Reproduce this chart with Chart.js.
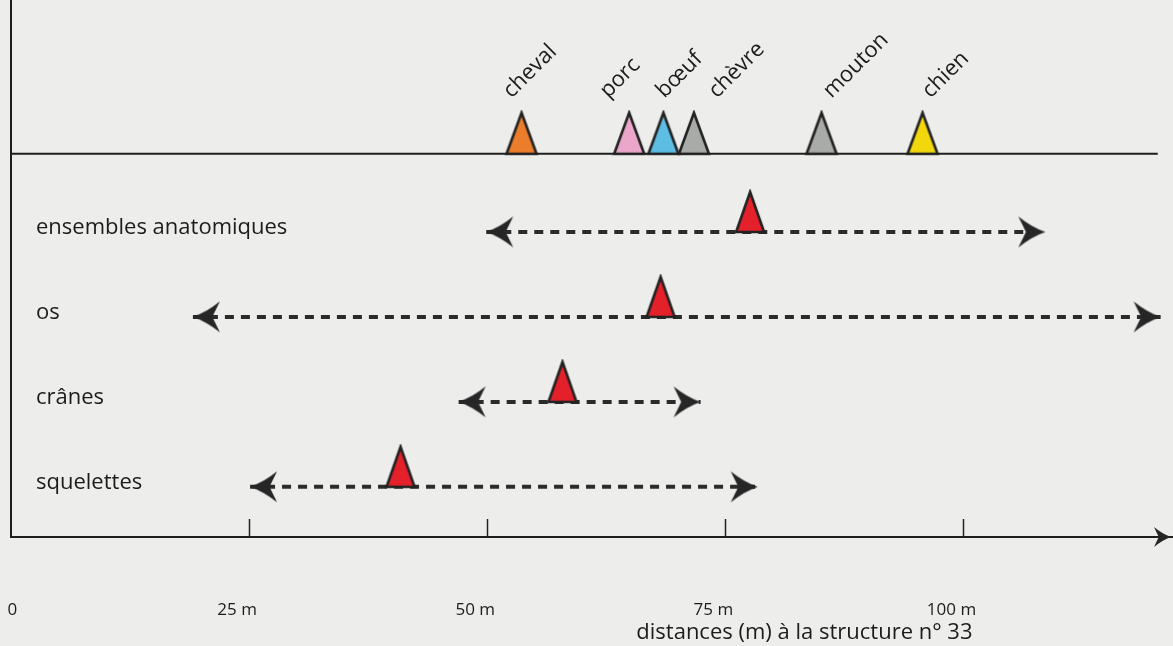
<!DOCTYPE html>
<html lang="fr">
<head>
<meta charset="utf-8">
<title>Distances à la structure n° 33</title>
<script src="https://cdn.jsdelivr.net/npm/chart.js@4.4.1/dist/chart.umd.min.js"></script>
<style>
  html, body { margin: 0; padding: 0; background: #ededec; }
  #cadre { width: 1173px; height: 646px; }
</style>
</head>
<body>
<div id="cadre"><canvas id="graphique"></canvas></div>
<script>
// distance moyenne de chaque espèce (m)
var especes = ['cheval', 'porc', 'bœuf', 'chèvre', 'mouton', 'chien'];
var especesDist = [53.6, 64.9, 68.5, 71.7, 85.1, 95.7];
var especesCouleurs = ['#ec7d2c', '#eaa7ca', '#5dbde3', '#a8aba7', '#a8aba7', '#f2d70c'];

// catégories de restes : moyenne et étendue (m)
var categories = ['ensembles anatomiques', 'os', 'crânes', 'squelettes'];
var moyennes = [77.6, 68.2, 57.9, 40.9];
var minima = [49.9, 19.1, 47.0, 25.1];
var maxima = [108.6, 120.7, 72.4, 78.4];

// axe des distances
var graduations = [0, 25, 50, 75, 100];
var etiquettes = ['      0', '25 m', '50 m', '75 m', '100 m'];

var LIGNE = 4.92;       // niveau de la ligne des espèces
var FIN_LIGNE = 120.4;  // la ligne des espèces s'arrête avant la flèche
var decalage = [-10, -21, 1, 23, 10, 8]; // petits décalages des noms d'espèces (px)
var police = '"Open Sans", "Noto Sans", sans-serif';

function rang(i) { return 4 - i; } // ensembles en haut, squelettes en bas

// triangle dont la base est au centre du canvas
function triangle(w, h, fond) {
  var c = document.createElement('canvas');
  c.width = w + 6; c.height = 2 * h + 6;
  var g = c.getContext('2d');
  var cx = c.width / 2, base = c.height / 2;
  g.beginPath();
  g.moveTo(cx, base - h);
  g.lineTo(cx + w / 2, base);
  g.lineTo(cx - w / 2, base);
  g.closePath();
  g.fillStyle = fond;
  g.fill();
  g.lineWidth = 2.6;
  g.lineJoin = 'miter';
  g.strokeStyle = '#222';
  g.stroke();
  return c;
}

// pointe de flèche vers la droite, la pointe au centre du canvas
function fleche(L, H) {
  var c = document.createElement('canvas');
  c.width = 2 * L + 2; c.height = H + 2;
  var g = c.getContext('2d');
  var cx = c.width / 2, cy = c.height / 2;
  g.beginPath();
  g.moveTo(cx, cy);
  g.quadraticCurveTo(cx - L * 0.5, cy - H * 0.15, cx - L, cy - H / 2);
  g.lineTo(cx - L * 0.72, cy);
  g.lineTo(cx - L, cy + H / 2);
  g.quadraticCurveTo(cx - L * 0.5, cy + H * 0.15, cx, cy);
  g.closePath();
  g.fillStyle = '#262626';
  g.fill();
  return c;
}

var pointe = fleche(27, 31);
var petitePointe = fleche(17, 20);
var triangleRouge = triangle(28, 40, '#e4202a');

var datasets = [];

datasets.push({
  label: 'espèces',
  data: especesDist.map(function (d) { return { x: d, y: LIGNE }; }),
  pointStyle: especesCouleurs.map(function (c) { return triangle(30, 41, c); }),
  pointRadius: 12,
  order: 0
});

datasets.push({
  label: 'moyennes',
  data: moyennes.map(function (m, i) { return { x: m, y: rang(i) }; }),
  pointStyle: triangleRouge,
  pointRadius: 12,
  order: 0
});

categories.forEach(function (nom, i) {
  datasets.push({
    label: nom,
    data: [{ x: minima[i], y: rang(i) }, { x: maxima[i], y: rang(i) }],
    showLine: true,
    borderColor: '#2b2b2b',
    borderWidth: 4,
    borderDash: [9, 7],
    borderCapStyle: 'butt',
    pointStyle: pointe,
    pointRotation: [180, 0],
    pointRadius: 12,
    order: 1
  });
});

datasets.push({
  label: 'ligne',
  data: [{ x: 0, y: LIGNE }, { x: FIN_LIGNE, y: LIGNE }],
  showLine: true,
  borderColor: '#1e1e1e',
  borderWidth: 2,
  pointRadius: 0,
  order: 2
});

// graduations internes, pointe de l'axe, noms des espèces, titre
var decor = {
  id: 'decor',
  afterDraw: function (chart) {
    var ctx = chart.ctx, xs = chart.scales.x, ys = chart.scales.y, a = chart.chartArea;
    ctx.save();
    ctx.strokeStyle = '#222';
    ctx.lineWidth = 1.5;
    graduations.forEach(function (v) {
      if (v === 0) return;
      var px = Math.round(xs.getPixelForValue(v)) + 0.5;
      ctx.beginPath();
      ctx.moveTo(px, a.bottom);
      ctx.lineTo(px, a.bottom - 18);
      ctx.stroke();
    });
    ctx.drawImage(petitePointe, a.right - 2 - petitePointe.width / 2, a.bottom - petitePointe.height / 2);

    ctx.fillStyle = '#1c1c1c';
    ctx.font = '22px ' + police;
    ctx.textAlign = 'left';
    ctx.textBaseline = 'alphabetic';
    var py = ys.getPixelForValue(LIGNE) - 55;
    especes.forEach(function (nom, i) {
      ctx.save();
      ctx.translate(xs.getPixelForValue(especesDist[i]) + decalage[i], py);
      ctx.rotate(-Math.PI / 4);
      ctx.fillText(nom, 0, 0);
      ctx.restore();
    });

    ctx.font = '22px ' + police;
    ctx.textAlign = 'center';
    ctx.fillText('distances (m) à la structure n° 33', xs.getPixelForValue(83.3), 639);
    ctx.restore();
  }
};

new Chart(document.getElementById('graphique'), {
  type: 'scatter',
  data: { datasets: datasets },
  plugins: [decor],
  options: {
    responsive: true,
    maintainAspectRatio: false,
    animation: false,
    events: [],
    clip: false,
    layout: { padding: 0, autoPadding: false },
    plugins: { legend: { display: false }, tooltip: { enabled: false } },
    scales: {
      x: {
        type: 'linear', min: 0, max: 122,
        border: { display: true, color: '#1e1e1e', width: 2 },
        grid: { display: false, drawTicks: false },
        afterBuildTicks: function (s) { s.ticks = graduations.map(function (v) { return { value: v }; }); },
        afterFit: function (s) { s.height = 109; s.paddingLeft = 0; s.paddingRight = 0; },
        ticks: {
          padding: 63, labelOffset: -12, maxRotation: 0, autoSkip: false,
          color: '#1c1c1c', font: { family: police, size: 17 },
          callback: function (v, i) { return etiquettes[i]; }
        }
      },
      y: {
        type: 'linear', min: 0.41, max: 6.73,
        border: { display: true, color: '#1e1e1e', width: 2 },
        grid: { display: false, drawTicks: false },
        afterBuildTicks: function (s) { s.ticks = categories.map(function (c, i) { return { value: rang(i) }; }); },
        afterFit: function (s) { s.width = 11; s.paddingTop = 0; s.paddingBottom = 0; },
        ticks: {
          mirror: true, padding: 25, labelOffset: -4,
          color: '#1c1c1c', font: { family: police, size: 22 },
          callback: function (v) { return categories[4 - v]; }
        }
      }
    }
  }
});
</script>
</body>
</html>
